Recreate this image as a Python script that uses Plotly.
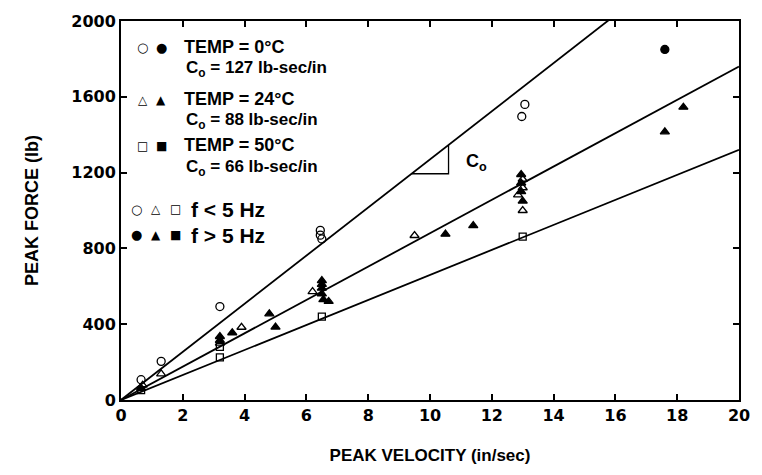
import plotly.graph_objects as go

# ---- data ----
c0_values = [127, 88, 66]          # lb-sec/in for 0, 24, 50 degC
fit_x = [0, 20]

t0_open_x = [0.65, 1.3, 3.2, 6.45, 6.45, 6.5, 13.07, 12.97]
t0_open_y = [107, 204, 493, 895, 870, 850, 1560, 1496]
t0_fill_x = [17.6]
t0_fill_y = [1850]

t24_open_x = [0.7, 1.3, 3.2, 3.9, 6.2, 9.5, 13.0, 13.0, 12.85, 13.0]
t24_open_y = [78, 138, 300, 384, 572, 868, 1165, 1120, 1082, 1000]
t24_fill_x = [0.65, 3.2, 3.2, 3.6, 4.8, 5.0, 6.5, 6.5, 6.5, 6.5, 6.55, 6.72,
              10.5, 11.4, 12.95, 12.95, 12.95, 13.0, 17.6, 18.2]
t24_fill_y = [62, 335, 315, 355, 455, 385, 630, 610, 590, 560, 530, 520,
              875, 920, 1190, 1145, 1100, 1050, 1415, 1545]

t50_open_x = [0.65, 3.2, 3.2, 6.5, 13.0]
t50_open_y = [52, 280, 225, 440, 862]

x_ticks = list(range(0, 21, 2))
y_ticks = list(range(0, 2001, 400))

FONT = "Liberation Sans"
TICKFONT = "DejaVu Sans"
fig = go.Figure()

# fitted lines
for c in c0_values:
    fig.add_trace(go.Scatter(x=fit_x, y=[c * v for v in fit_x], mode="lines",
                             line=dict(color="black", width=1.8),
                             showlegend=False, hoverinfo="skip"))

# slope triangle on the 0 degC line
tx0, tx1 = 9.4, 10.6
c = c0_values[0]
fig.add_trace(go.Scatter(x=[tx0, tx1, tx1], y=[c * tx0, c * tx0, c * tx1],
                         mode="lines", line=dict(color="black", width=1.3),
                         showlegend=False, hoverinfo="skip"))

def pts(x, y, sym, size=8):
    fig.add_trace(go.Scatter(x=x, y=y, mode="markers",
                             marker=dict(symbol=sym, size=size, color="black",
                                         line=dict(color="black", width=1.3)),
                             showlegend=False))

pts(t0_open_x, t0_open_y, "circle-open", 8)
pts(t0_fill_x, t0_fill_y, "circle", 8)
pts(t24_open_x, t24_open_y, "triangle-up-open", 8)
pts(t24_fill_x, t24_fill_y, "triangle-up", 8)
pts(t50_open_x, t50_open_y, "square-open", 7)

# legend as annotations
W, H = 627.0, 385.0
def px(xp): return (xp - 121) / W
def py(yp): return (400 - yp) / H

def ann(x, y, text, size=18, xanchor="left", family=FONT):
    fig.add_annotation(xref="paper", yref="paper", x=px(x), y=py(y), text=text,
                       showarrow=False, xanchor=xanchor, yanchor="middle",
                       font=dict(family=family, size=size, color="black"))

def sym(x, y, glyph, size=13):
    ann(x, y, glyph, size=size, xanchor="center", family="DejaVu Sans")

sym(143, 42, "○"); sym(162, 42, "●")
sym(143, 95, "△", 12); sym(162, 95, "▲", 12)
sym(143, 142, "□", 12); sym(162, 142, "■", 12)
sym(137, 206, "○"); sym(157, 206, "△", 12); sym(176, 206, "□", 12)
sym(137, 232, "●"); sym(157, 232, "▲", 12); sym(176, 232, "■", 12)

ann(183, 41, "<b>TEMP = 0°C</b>", 18)
ann(185, 64, "<b>C<sub>o</sub> = 127 lb-sec/in</b>", 17)
ann(183, 94, "<b>TEMP = 24°C</b>", 18)
ann(185, 117, "<b>C<sub>o</sub> = 88 lb-sec/in</b>", 17)
ann(183, 141, "<b>TEMP = 50°C</b>", 18)
ann(185, 164, "<b>C<sub>o</sub> = 66 lb-sec/in</b>", 17)
ann(190, 206, "<b>f &lt; 5 Hz</b>", 21)
ann(190, 233, "<b>f &gt; 5 Hz</b>", 21)

fig.add_annotation(x=11.1, y=1255, text="<b>C<sub>o</sub></b>", showarrow=False,
                   xanchor="left", font=dict(family=FONT, size=18, color="black"))

axis_common = dict(showgrid=False, zeroline=False, showline=True, linecolor="black",
                   linewidth=2, mirror="ticks", ticks="inside", ticklen=6,
                   tickwidth=1.5, tickcolor="black",
                   tickfont=dict(family=TICKFONT, size=16, color="black"))

fig.update_xaxes(range=[0, 20], tickvals=x_ticks,
                 ticktext=[f"<b>{v}</b>" for v in x_ticks],
                 title=dict(text="<b>PEAK VELOCITY (in/sec)</b>", standoff=25,
                            font=dict(family=FONT, size=17, color="black")),
                 **axis_common)
fig.update_yaxes(range=[0, 2000], tickvals=y_ticks,
                 ticktext=[f"<b>{v}</b>" for v in y_ticks],
                 title=dict(text="<b>PEAK FORCE (lb)</b>", standoff=28,
                            font=dict(family=FONT, size=18, color="black")),
                 **axis_common)

fig.update_layout(width=762, height=475, margin=dict(l=121, r=14, t=15, b=75),
                  plot_bgcolor="white", paper_bgcolor="white", showlegend=False)

fig.write_html("out.html")
